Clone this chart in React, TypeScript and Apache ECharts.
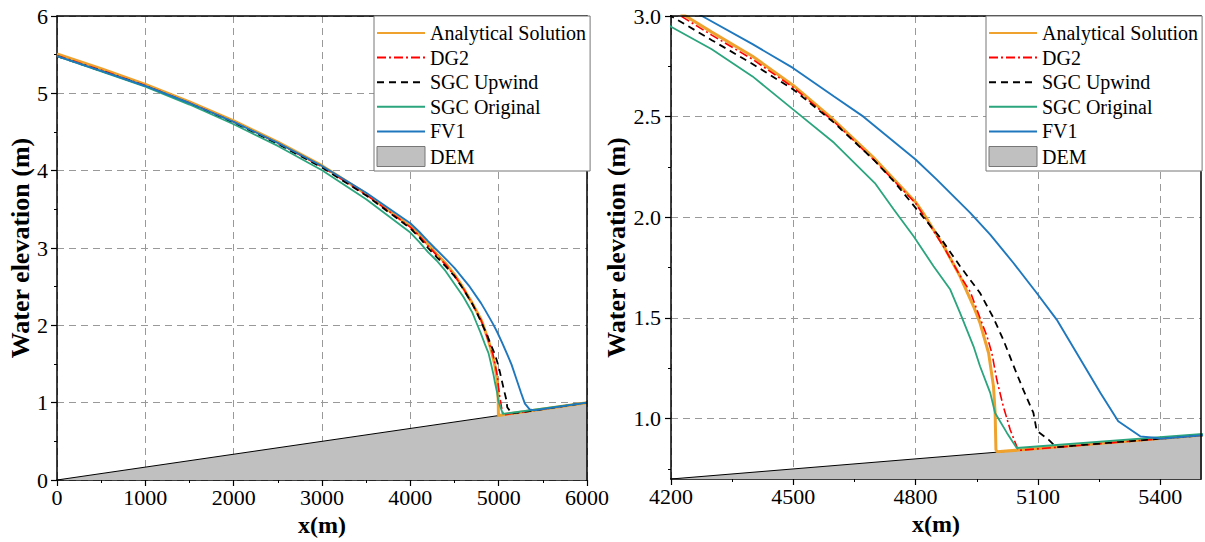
import React, { useEffect, useRef } from 'react';
import * as echarts from 'echarts';

// ---------- data ----------
const DEM_X = [0, 6000];
const DEM_Y = [0, 1];

const ANA_X = [0, 500, 1000, 1500, 2000, 2500, 3000, 3500, 4000, 4100, 4200, 4300, 4400, 4500, 4590, 4700, 4746, 4800, 4819, 4868, 4909, 4942, 4958, 4979, 4991, 4995, 4997, 5000, 6000];
const ANA_Y = [5.51, 5.32, 5.115, 4.89, 4.645, 4.37, 4.065, 3.7, 3.28, 3.17, 3.045, 2.92, 2.8, 2.655, 2.5, 2.29, 2.19, 2.075, 2.02, 1.86, 1.707, 1.558, 1.475, 1.326, 1.16, 1.03, 0.846, 0.835, 1.0];

const DG2_X = [0, 500, 1000, 1500, 2000, 2500, 3000, 3500, 4000, 4100, 4200, 4300, 4400, 4500, 4600, 4700, 4800, 4868, 4909, 4934, 4958, 4975, 4987, 4999, 5015, 5032, 5048, 5052, 6000];
const DG2_Y = [5.49, 5.3, 5.1, 4.875, 4.63, 4.355, 4.05, 3.69, 3.27, 3.16, 3.03, 2.905, 2.785, 2.645, 2.475, 2.28, 2.07, 1.856, 1.71, 1.63, 1.5, 1.409, 1.326, 1.194, 1.061, 0.945, 0.862, 0.842, 1.0];

const UPW_X = [0, 500, 1000, 1500, 2000, 2500, 3000, 3500, 4000, 4100, 4200, 4300, 4400, 4500, 4600, 4700, 4746, 4819, 4860, 4909, 4958, 4991, 5015, 5044, 5064, 5089, 5097, 5126, 5145, 6000];
const UPW_Y = [5.48, 5.29, 5.095, 4.87, 4.62, 4.345, 4.04, 3.68, 3.255, 3.14, 3.0, 2.88, 2.762, 2.635, 2.47, 2.28, 2.18, 2.0, 1.9, 1.757, 1.624, 1.5, 1.392, 1.243, 1.144, 1.028, 0.94, 0.896, 0.858, 1.0];

const ORIG_X = [0, 500, 1000, 1500, 2000, 2500, 3000, 3500, 4000, 4100, 4200, 4300, 4400, 4500, 4600, 4700, 4746, 4795, 4844, 4885, 4909, 4942, 4958, 4983, 4995, 5024, 5048, 6000];
const ORIG_Y = [5.48, 5.285, 5.085, 4.855, 4.6, 4.32, 4.005, 3.63, 3.2, 3.08, 2.947, 2.835, 2.7, 2.535, 2.37, 2.17, 2.04, 1.906, 1.757, 1.641, 1.525, 1.359, 1.26, 1.128, 1.028, 0.929, 0.854, 1.0];

const FV1_X = [0, 500, 1000, 1500, 2000, 2500, 3000, 3500, 4000, 4100, 4200, 4276, 4400, 4499, 4600, 4672, 4800, 4852, 4934, 4983, 5040, 5097, 5146, 5195, 5253, 5297, 5351, 5392, 5400, 6000];
const FV1_Y = [5.48, 5.29, 5.095, 4.875, 4.63, 4.36, 4.06, 3.715, 3.32, 3.21, 3.09, 3.0, 2.86, 2.742, 2.6, 2.5, 2.287, 2.187, 2.022, 1.914, 1.773, 1.624, 1.492, 1.326, 1.128, 0.987, 0.912, 0.904, 0.9, 1.0];

const NAMES = ['Analytical Solution', 'DG2', 'SGC Upwind', 'SGC Original', 'FV1', 'DEM'];

const L_X_TICKS = [0, 1000, 2000, 3000, 4000, 5000, 6000];
const L_Y_TICKS = [0, 1, 2, 3, 4, 5, 6];
const R_X_TICKS = [4200, 4500, 4800, 5100, 5400];
const R_X_MINOR = [4350, 4650, 4950, 5250];
const R_Y_TICKS = [1.0, 1.5, 2.0, 2.5, 3.0];
const R_Y_MINOR = [0.75, 1.25, 1.75, 2.25, 2.75];

const zip = (xs: number[], ys: number[]) => xs.map((x, i) => [x, ys[i]]);

const FONT = '"Liberation Serif", "Times New Roman", serif';

export default function App() {
  const ref = useRef<HTMLDivElement>(null);
  useEffect(() => {
    if (!ref.current) return;
    const chart = echarts.init(ref.current, undefined, { renderer: 'svg' });

    const lineDefs = [
      { name: NAMES[0], data: zip(ANA_X, ANA_Y), color: '#EFA22E', width: 3, type: 'solid' as any },
      { name: NAMES[1], data: zip(DG2_X, DG2_Y), color: '#FF0000', width: 1.6, type: [9, 3, 2, 3] as any },
      { name: NAMES[2], data: zip(UPW_X, UPW_Y), color: '#000000', width: 1.8, type: [7, 5] as any },
      { name: NAMES[3], data: zip(ORIG_X, ORIG_Y), color: '#2BA57D', width: 1.8, type: 'solid' as any },
      { name: NAMES[4], data: zip(FV1_X, FV1_Y), color: '#1F78BE', width: 1.9, type: 'solid' as any },
    ];

    const series: any[] = [];
    [0, 1].forEach((g) => {
      series.push({
        type: 'line',
        name: 'DEM',
        xAxisIndex: g,
        yAxisIndex: g,
        data: zip(DEM_X, DEM_Y),
        symbol: 'none',
        lineStyle: { color: '#000', width: 1 },
        itemStyle: { color: '#C0C0C0' },
        areaStyle: { color: '#C0C0C0', opacity: 1, origin: 'start' },
        z: 1,
      });
      lineDefs.forEach((d) => {
        series.push({
          type: 'line',
          name: d.name,
          xAxisIndex: g,
          yAxisIndex: g,
          data: d.data,
          symbol: 'none',
          showSymbol: false,
          lineStyle: { color: d.color, width: d.width, type: d.type },
          itemStyle: { color: d.color },
          z: 3,
        });
      });
    });

    const labelStyle = { fontFamily: FONT, fontSize: 22, color: '#000' };
    const nameStyle = { fontFamily: FONT, fontSize: 24, fontWeight: 'bold' as const, color: '#000' };
    const gridLine = { show: true, lineStyle: { color: '#999', type: [7, 5] as any, width: 1 } };
    const axisLine = { show: true, onZero: false, lineStyle: { color: '#000', width: 1.5 } };
    const plain = (v: number) => String(v);

    const legendBase = {
      orient: 'vertical',
      top: 16,
      backgroundColor: '#fff',
      borderColor: '#777',
      borderWidth: 1,
      borderRadius: 0,
      padding: [7, 4, 4, 2],
      itemGap: 4.6,
      itemWidth: 48,
      itemHeight: 20,
      itemStyle: { opacity: 0 },
      textStyle: { fontFamily: FONT, fontSize: 20, color: '#000' },
      selectedMode: false,
      z: 10,
      data: NAMES.map((n) =>
        n === 'DEM'
          ? { name: n, icon: 'rect', itemStyle: { color: '#C0C0C0', borderColor: '#777', borderWidth: 1, opacity: 1 } }
          : { name: n }
      ),
    };

    const frameX = (grid: number, min: number, max: number) => ({
      type: 'value', gridIndex: grid, min, max, position: 'top', z: 5,
      axisLine: { show: true, onZero: false, lineStyle: { color: '#000', width: 1.5 } },
      axisTick: { show: false }, axisLabel: { show: false }, splitLine: { show: false },
    });
    const frameY = (grid: number, min: number, max: number) => ({
      type: 'value', gridIndex: grid, min, max, position: 'right', z: 5,
      axisLine: { show: true, onZero: false, lineStyle: { color: '#000', width: 1.5 } },
      axisTick: { show: false }, axisLabel: { show: false }, splitLine: { show: false },
    });

    const option: any = {
      animation: false,
      backgroundColor: '#fff',
      grid: [
        { left: 57, top: 16, width: 530, height: 464, containLabel: false },
        { left: 671, top: 16, width: 530, height: 463, containLabel: false },
      ],
      legend: [
        { ...legendBase, left: 374 },
        { ...legendBase, left: 986 },
      ],
      xAxis: [
        {
          type: 'value', gridIndex: 0, min: 0, max: 6000, interval: 1000, position: 'bottom',
          axisLine, axisTick: { show: true, length: 6, lineStyle: { color: '#000', width: 1.2 } },
          minorTick: { show: true, splitNumber: 2, length: 3, lineStyle: { color: '#000', width: 1 } },
          axisLabel: { ...labelStyle, margin: 6, customValues: L_X_TICKS, formatter: plain },
          splitLine: gridLine,
          name: 'x(m)', nameLocation: 'middle', nameGap: 29, nameTextStyle: nameStyle,
        },
        {
          type: 'value', gridIndex: 1, min: 4200, max: 5500, position: 'bottom',
          axisLine, axisTick: { show: true, length: 6, customValues: R_X_TICKS, lineStyle: { color: '#000', width: 1.2 } },
          axisLabel: { ...labelStyle, margin: 6, customValues: R_X_TICKS, formatter: plain },
          splitLine: gridLine,
          name: 'x(m)', nameLocation: 'middle', nameGap: 29, nameTextStyle: nameStyle,
        },
        {
          type: 'value', gridIndex: 1, min: 4200, max: 5500, position: 'bottom',
          axisLine: { show: false },
          axisTick: { show: true, length: 3, customValues: R_X_MINOR, lineStyle: { color: '#000', width: 1 } },
          axisLabel: { show: false },
          splitLine: { show: false },
        },
        frameX(0, 0, 6000),
        frameX(1, 4200, 5500),
      ],
      yAxis: [
        {
          type: 'value', gridIndex: 0, min: 0, max: 6, interval: 1, position: 'left',
          axisLine, axisTick: { show: true, length: 6, lineStyle: { color: '#000', width: 1.2 } },
          minorTick: { show: true, splitNumber: 2, length: 3, lineStyle: { color: '#000', width: 1 } },
          axisLabel: { ...labelStyle, margin: 9, customValues: L_Y_TICKS, formatter: plain },
          splitLine: gridLine,
          name: 'Water elevation (m)', nameLocation: 'middle', nameGap: 24, nameRotate: 90,
          nameTextStyle: { ...nameStyle, fontSize: 26 },
        },
        {
          type: 'value', gridIndex: 1, min: 0.7, max: 3.0, position: 'left',
          axisLine, axisTick: { show: true, length: 6, customValues: R_Y_TICKS, lineStyle: { color: '#000', width: 1.2 } },
          axisLabel: { ...labelStyle, margin: 10, customValues: R_Y_TICKS, formatter: (v: number) => v.toFixed(1) },
          splitLine: gridLine,
          name: 'Water elevation (m)', nameLocation: 'middle', nameGap: 37, nameRotate: 90,
          nameTextStyle: { ...nameStyle, fontSize: 26 },
        },
        {
          type: 'value', gridIndex: 1, min: 0.7, max: 3.0, position: 'left',
          axisLine: { show: false },
          axisTick: { show: true, length: 3, customValues: R_Y_MINOR, lineStyle: { color: '#000', width: 1 } },
          axisLabel: { show: false },
          splitLine: { show: false },
        },
        frameY(0, 0, 6),
        frameY(1, 0.7, 3.0),
      ],
      series,
    };

    chart.setOption(option);
    return () => chart.dispose();
  }, []);

  return (
    <div
      ref={ref}
      style={{ position: 'absolute', left: 0, top: 0, width: 1205, height: 542, background: '#fff' }}
    />
  );
}
